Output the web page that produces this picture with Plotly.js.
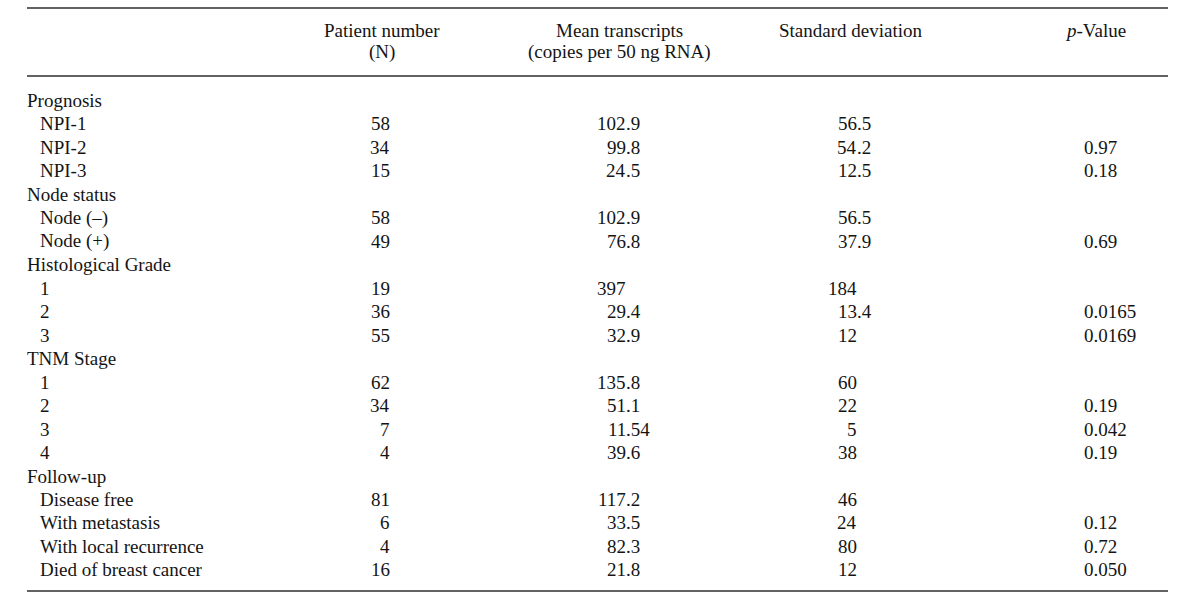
<!DOCTYPE html>
<html>
<head>
<meta charset="utf-8">
<script src="https://cdn.plot.ly/plotly-3.0.1.min.js"></script>
<style>html,body{margin:0;padding:0;background:#fff;}#chart{width:1200px;height:607px;}</style>
</head>
<body>
<div id="chart"></div>
<script>
// ---- Data ----
const columnHeaders = [
  ['Patient number', '(N)'],
  ['Mean transcripts', '(copies per 50 ng RNA)'],
  ['Standard deviation', ''],
  ['<i>p</i>-Value', '']
];
const groups = ['Prognosis', 'Node status', 'Histological Grade', 'TNM Stage', 'Follow-up'];
const subLabels = [
  ['NPI-1', 'NPI-2', 'NPI-3'],
  ['Node (–)', 'Node (+)'],
  ['1', '2', '3'],
  ['1', '2', '3', '4'],
  ['Disease free', 'With metastasis', 'With local recurrence', 'Died of breast cancer']
];
const patientN = ['58', '34', '15', '58', '49', '19', '36', '55', '62', '34', '7', '4', '81', '6', '4', '16'];
const meanTranscripts = ['102.9', '99.8', '24.5', '102.9', '76.8', '397', '29.4', '32.9', '135.8', '51.1', '11.54', '39.6', '117.2', '33.5', '82.3', '21.8'];
const stdDev = ['56.5', '54.2', '12.5', '56.5', '37.9', '184', '13.4', '12', '60', '22', '5', '38', '46', '24', '80', '12'];
const pValue = ['', '0.97', '0.18', '', '0.69', '', '0.0165', '0.0169', '', '0.19', '0.042', '0.19', '', '0.12', '0.72', '0.050'];

// ---- Layout constants ----
const FONT = {family: 'Liberation Serif, Times New Roman, serif', size: 19, color: '#141414'};
const ROW0 = 100.5, DY = 23.47;
const X_GROUP = 27, X_SUB = 40;
const X_N = 390, X_MEAN_DEC = 626, X_SD_DEC = 857, X_P = 1084;
const HEADER_X = [382, 619, 850, 1095];
const HEADER_Y = [30, 52];
const RULES_Y = [8, 76, 591];
const RULE_X = [27, 1168];

const ann = [];
function addText(text, x, y, anchor) {
  if (text === '' || text === undefined) return;
  ann.push({
    text: text, x: x, y: y, xref: 'x', yref: 'y',
    xanchor: anchor, yanchor: 'middle', showarrow: false,
    font: FONT, borderpad: 0, borderwidth: 0, align: anchor
  });
}
function addDecimal(val, xDec, y) {
  if (!val) return;
  const i = val.indexOf('.');
  const intPart = i < 0 ? val : val.slice(0, i);
  const frac = i < 0 ? '' : val.slice(i);
  addText(intPart, xDec, y, 'right');
  addText(frac, xDec, y, 'left');
}

// headers
columnHeaders.forEach((h, c) => {
  addText(h[0], HEADER_X[c], HEADER_Y[0], 'center');
  addText(h[1], HEADER_X[c], HEADER_Y[1], 'center');
});

// body
let row = 0, k = 0;
groups.forEach((g, gi) => {
  addText(g, X_GROUP, ROW0 + row * DY, 'left');
  row++;
  subLabels[gi].forEach(lab => {
    const y = ROW0 + row * DY;
    addText(lab, X_SUB, y, 'left');
    addText(patientN[k], X_N, y, 'right');
    addDecimal(meanTranscripts[k], X_MEAN_DEC, y);
    addDecimal(stdDev[k], X_SD_DEC, y);
    addText(pValue[k], X_P, y, 'left');
    row++; k++;
  });
});

const shapes = RULES_Y.map(y => ({
  type: 'line', xref: 'x', yref: 'y', x0: RULE_X[0], x1: RULE_X[1], y0: y, y1: y,
  line: {color: '#2e2e2e', width: 1.6}
}));

const layout = {
  width: 1200, height: 607,
  margin: {l: 0, r: 0, t: 0, b: 0, pad: 0},
  paper_bgcolor: '#ffffff', plot_bgcolor: '#ffffff',
  showlegend: false,
  xaxis: {range: [0, 1200], visible: false, fixedrange: true},
  yaxis: {range: [607, 0], visible: false, fixedrange: true},
  annotations: ann,
  shapes: shapes,
  font: FONT
};

Plotly.newPlot('chart', [{x: [], y: [], type: 'scatter', mode: 'markers', hoverinfo: 'skip'}], layout, {staticPlot: true, displayModeBar: false});
</script>
</body>
</html>
